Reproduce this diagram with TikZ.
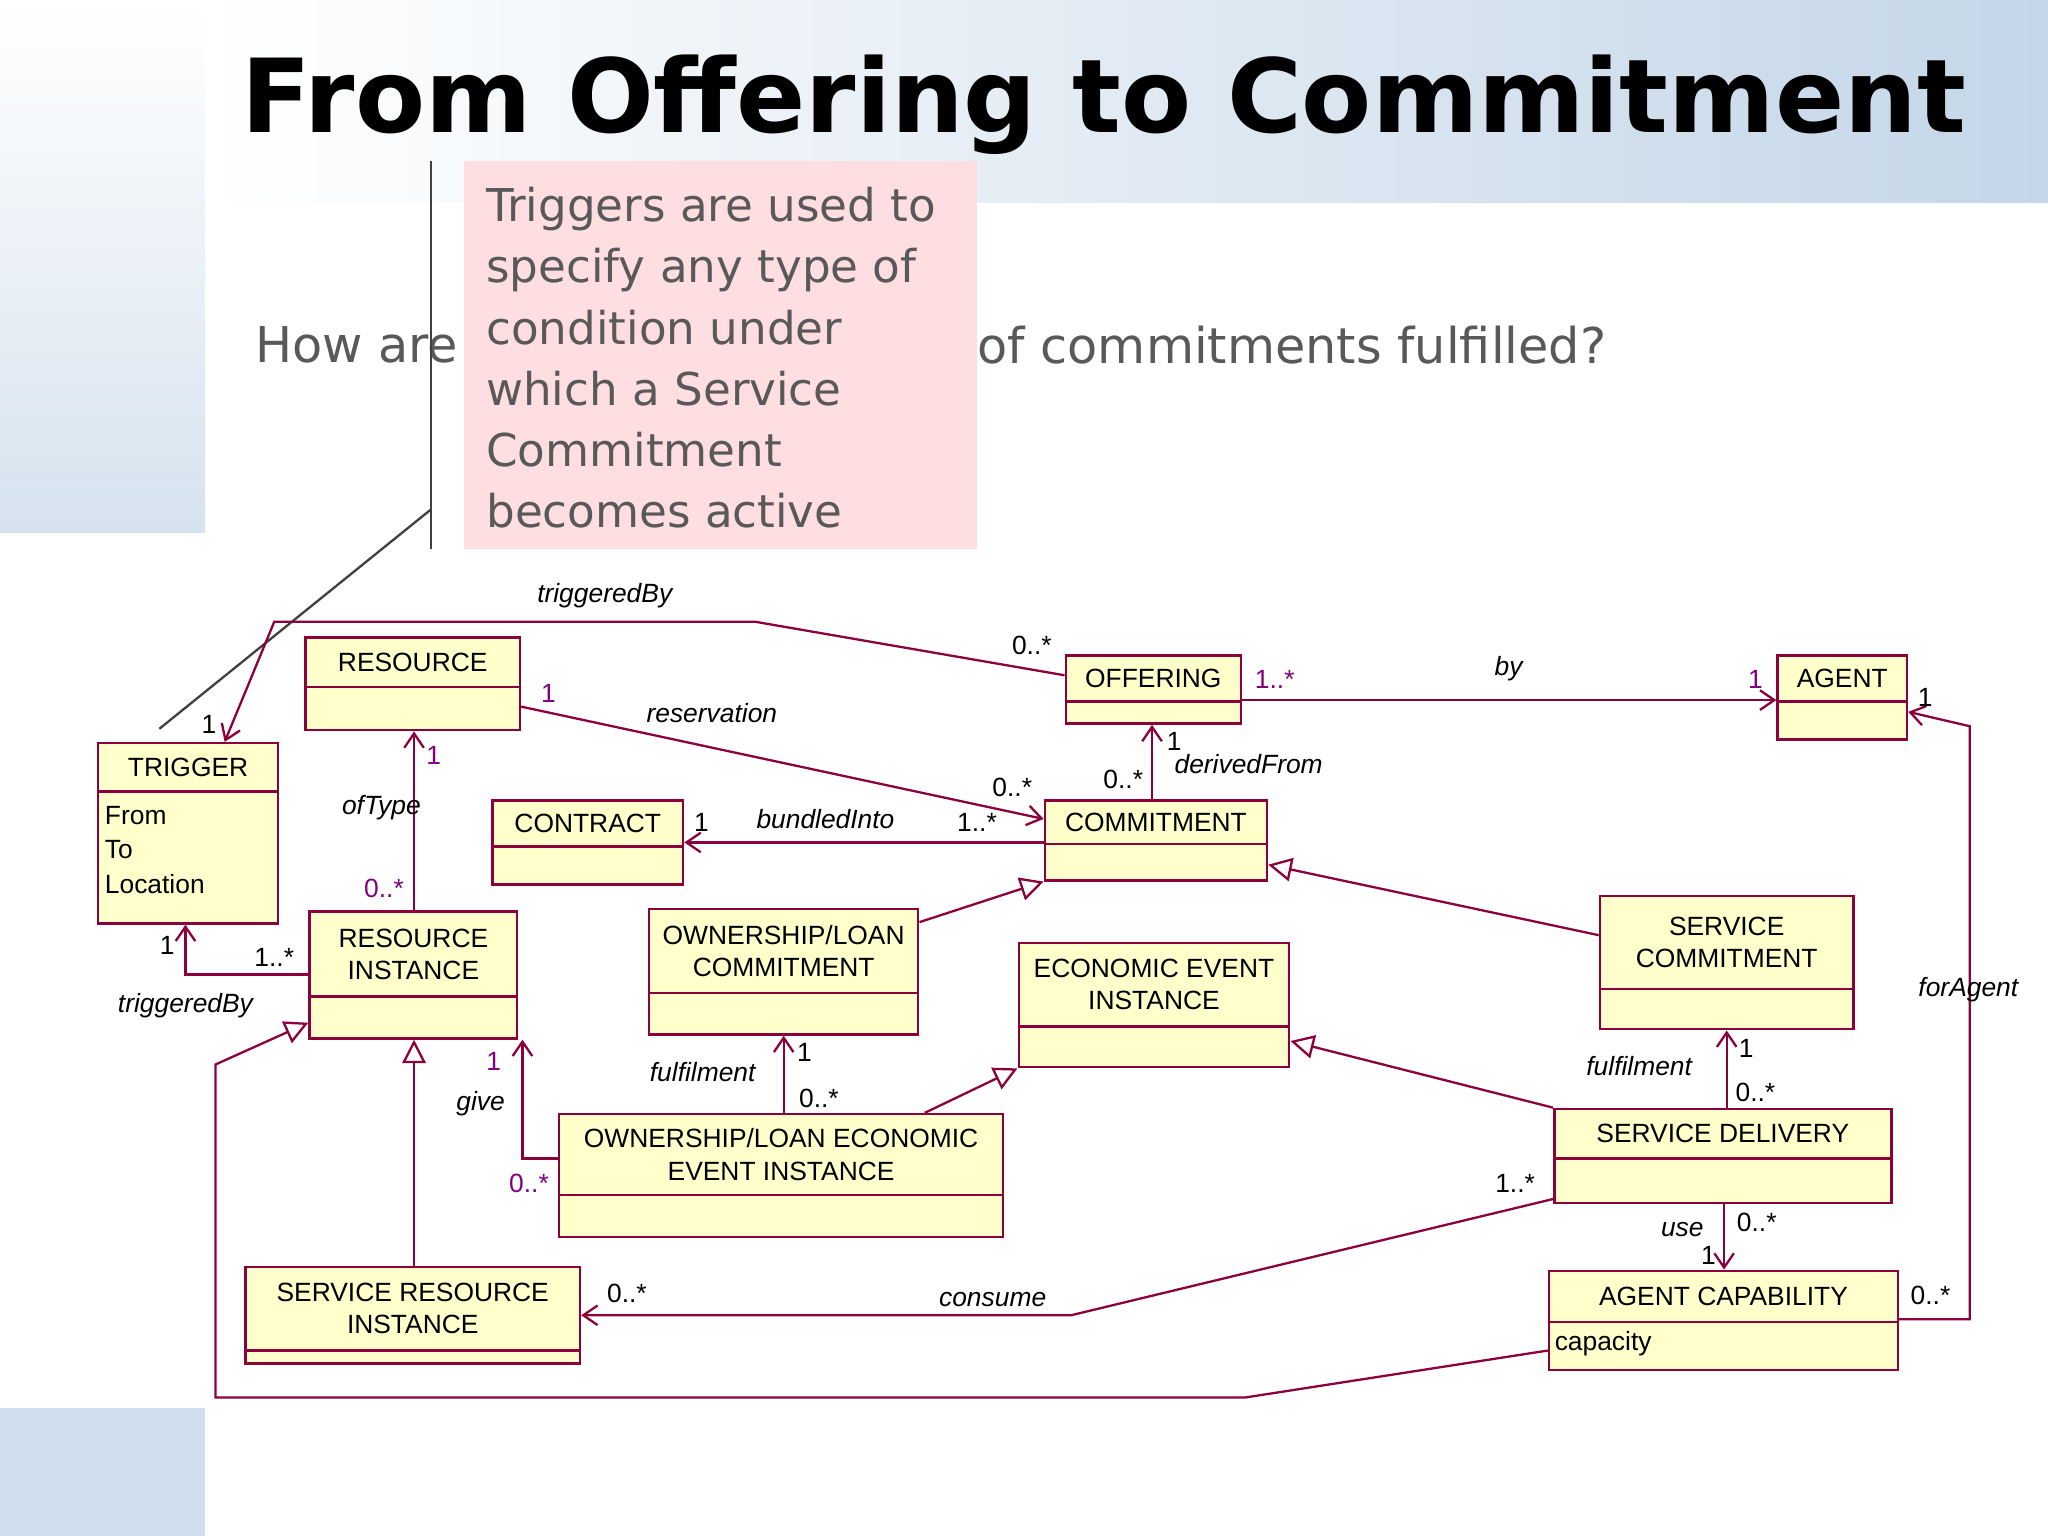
\documentclass[tikz,border=0pt]{standalone}
\usepackage{fontspec}
\setmainfont{Liberation Sans}
\newfontfamily\titlefont{DejaVu Sans}
\usetikzlibrary{arrows.meta,fit,calc}
\definecolor{umlc}{RGB}{140,0,60}
\definecolor{umlf}{RGB}{255,255,204}
\definecolor{pinkbox}{RGB}{255,222,226}
\definecolor{bgblue}{RGB}{196,214,232}
\tikzset{
 umlbox/.style={draw=umlc,fill=umlf,line width=1.1pt,inner sep=0pt},
 btitle/.style={font=\fontsize{11.5}{14}\selectfont,align=center,inner sep=0pt},
 lbl/.style={font=\itshape\fontsize{11.5}{14}\selectfont,inner sep=0pt},
 mult/.style={font=\fontsize{11.5}{14}\selectfont,inner sep=0pt},
 assoc/.style={draw=umlc,line width=1pt,-{Straight Barb[length=2.2mm,width=3mm]}},
 gen/.style={draw=umlc,line width=1pt,-{Triangle[open,length=3.6mm,width=3.6mm,fill=white]}}
}
\newcommand{\umlbox}[8]{%
 \node[umlbox,fit={(#2,#3)(#4,#5)}] (#1) {};
 \draw[umlc,line width=1pt] (#2,#6) -- (#4,#6);
 \node[btitle] at ({(#2+#4)/2},{(#3+#6)/2}) {#7};
}
\begin{document}
\begin{tikzpicture}[x=0.02cm,y=-0.02cm]
\useasboundingbox (0,0) rectangle (1568,1176);
\fill[white] (0,0) rectangle (1568,1176);
\shade[top color=white,bottom color=bgblue!70] (0,0) rectangle (157,408);
\shade[left color=white,right color=bgblue] (157,0) rectangle (1568,155);
\fill[bgblue!80] (0,1078) rectangle (157,1176);
\node[font=\titlefont\bfseries\fontsize{44.5}{48}\selectfont,inner sep=0pt] (title) at (845,80) {From Offering to Commitment};
\node[font=\titlefont\fontsize{21.5}{24}\selectfont,text=black!65,anchor=west,inner sep=0pt] (q1) at (195,264) {How are};
\node[font=\titlefont\fontsize{21.5}{24}\selectfont,text=black!65,anchor=west,inner sep=0pt] (q2) at (748,264) {of commitments fulfilled?};
\node[fill=pinkbox,fit={(355,123)(748,420)},inner sep=0pt] (note) {};
\node[font=\titlefont\fontsize{19.7}{26.7}\selectfont,text=black!65,anchor=north west,align=left,inner sep=0pt] (notetext) at (372,143) {Triggers are used to\\specify any type of\\condition under\\which a Service\\Commitment\\becomes active};
\draw[black!75,line width=1pt] (330,123) -- (330,420);
\coordinate (nb) at (330,390);
\coordinate (ne) at (122,558);
\draw[black!75,line width=1pt] (nb) -- (ne);

\umlbox{trigger}{75}{569}{213}{707}{606}{TRIGGER}{}
\node[anchor=north west,align=left,font=\fontsize{11.5}{15}\selectfont,inner sep=0pt] at (80,617) {From\\To\\Location};
\umlbox{resource}{234}{488}{398}{559}{526}{RESOURCE}{}
\umlbox{contract}{377}{613}{523}{677}{648}{CONTRACT}{}
\umlbox{offering}{816}{502}{950}{554}{537}{OFFERING}{}
\umlbox{agent}{1361}{502}{1460}{566}{537}{AGENT}{}
\umlbox{commitment}{800}{613}{970}{674}{646}{COMMITMENT}{}
\umlbox{resinst}{237}{698}{396}{795}{763}{RESOURCE\\INSTANCE}{}
\umlbox{olc}{497}{696}{703}{792}{760}{OWNERSHIP/LOAN\\COMMITMENT}{}
\umlbox{eei}{780}{722}{987}{817}{786}{ECONOMIC EVENT\\INSTANCE}{}
\umlbox{sc}{1225}{686}{1419}{788}{757}{SERVICE\\COMMITMENT}{}
\umlbox{oleei}{428}{853}{768}{947}{915}{OWNERSHIP/LOAN ECONOMIC\\EVENT INSTANCE}{}
\umlbox{sd}{1190}{849}{1448}{921}{887}{SERVICE DELIVERY}{}
\umlbox{sri}{188}{970}{444}{1044}{1034}{SERVICE RESOURCE\\INSTANCE}{}
\umlbox{ac}{1186}{973}{1453}{1049}{1012}{AGENT CAPABILITY}{}
\node[anchor=west,font=\fontsize{11.5}{14}\selectfont,inner sep=0pt] at (1190,1029) {capacity};

% associations
\draw[assoc] (offering.west |- 0,517) -- (578,476) -- (210,476) -- (trigger.north -| 172,0);
\node[lbl] at (463,456) {triggeredBy};
\node[mult] at (790,494) {0..*};
\node[mult] at (160,555) {1};

\draw[assoc] (resource.east |- 0,541) -- (commitment.west |- 0,627);
\node[mult,text=violet] at (420,531) {1};
\node[lbl] at (545,546) {reservation};
\node[mult] at (775,603) {0..*};

\draw[assoc] (offering.east |- 0,536) -- (agent.west |- 0,536);
\node[mult,text=violet] at (976,520) {1..*};
\node[lbl] at (1155,512) {by};
\node[mult,text=violet] at (1344,520) {1};

\draw[assoc] (commitment.north -| 882,0) -- (offering.south -| 882,0);
\node[mult] at (899,568) {1};
\node[lbl] at (956,585) {derivedFrom};
\node[mult] at (860,597) {0..*};

\draw[assoc] (commitment.west |- 0,645) -- (contract.east |- 0,645);
\node[mult] at (537,630) {1};
\node[lbl] at (632,627) {bundledInto};
\node[mult] at (748,630) {1..*};

\draw[assoc] (resinst.north -| 317,0) -- (resource.south -| 317,0);
\node[mult,text=violet] at (332,578) {1};
\node[lbl] at (292,618) {ofType};
\node[mult,text=violet] at (294,680) {0..*};

\draw[assoc] (resinst.west |- 0,746) -- (142,746) -- (trigger.south -| 142,0);
\node[mult] at (128,724) {1};
\node[mult] at (210,733) {1..*};
\node[lbl] at (142,770) {triggeredBy};

\draw[assoc] (oleei.north -| 600,0) -- (olc.south -| 600,0);
\node[mult] at (616,806) {1};
\node[lbl] at (538,821) {fulfilment};
\node[mult] at (627,841) {0..*};

\draw[assoc] (oleei.west |- 0,887) -- (400,887) -- (resinst.south -| 400,0);
\node[mult,text=violet] at (378,813) {1};
\node[lbl] at (368,845) {give};
\node[mult,text=violet] at (405,906) {0..*};

\draw[assoc] (sd.north -| 1322,0) -- (sc.south -| 1322,0);
\node[mult] at (1337,803) {1};
\node[lbl] at (1255,816) {fulfilment};
\node[mult] at (1344,836) {0..*};

\draw[assoc] (sd.west |- 0,918) -- (820,1007) -- (sri.east |- 0,1007);
\node[mult] at (1160,906) {1..*};
\node[lbl] at (760,995) {consume};
\node[mult] at (480,990) {0..*};

\draw[assoc] (sd.south -| 1320,0) -- (ac.north -| 1320,0);
\node[lbl] at (1288,941) {use};
\node[mult] at (1345,936) {0..*};
\node[mult] at (1308,961) {1};

\draw[assoc] (ac.east |- 0,1010) -- (1508,1010) -- (1508,556) -- (agent.east |- 0,545);
\node[mult] at (1474,534) {1};
\node[lbl] at (1507,758) {forAgent};
\node[mult] at (1478,992) {0..*};

% generalizations
\draw[gen] (olc.east |- 0,706) -- (commitment.south west);
\draw[gen] (sc.west |- 0,716) -- (commitment.east |- 0,662);
\draw[gen] (oleei.north -| 708,0) -- (eei.south west);
\draw[gen] (sd.north west) -- (eei.east |- 0,797);
\draw[gen] (sri.north -| 317,0) -- (resinst.south -| 317,0);
\draw[gen] (ac.west |- 0,1034) -- (953,1070) -- (165,1070) -- (165,815) -- (resinst.west |- 0,783);
\end{tikzpicture}
\end{document}
